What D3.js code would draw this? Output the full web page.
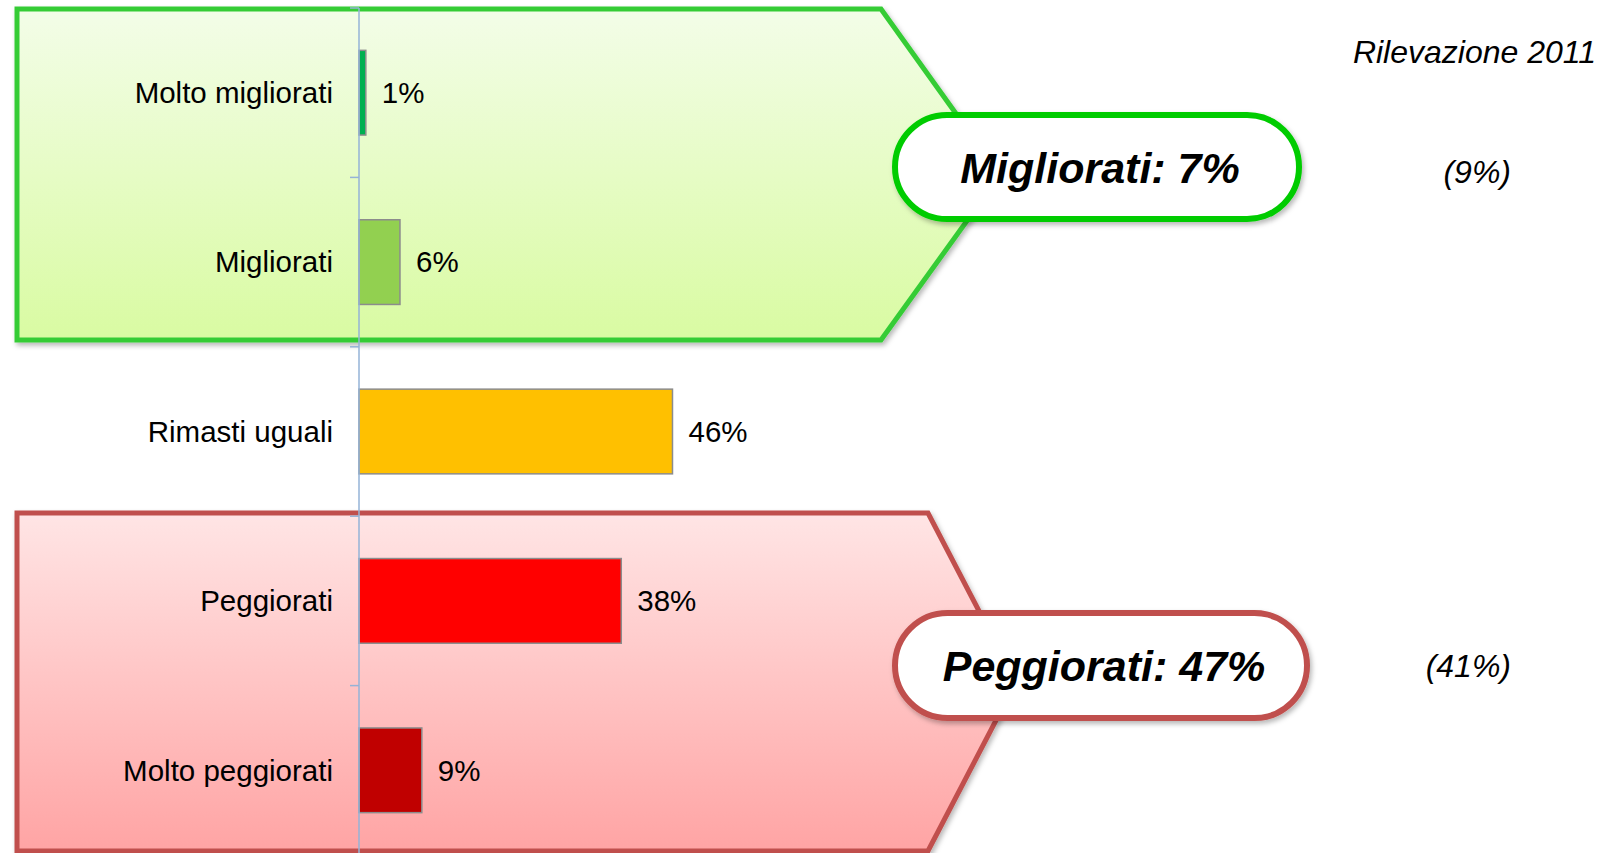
<!DOCTYPE html>
<html>
<head>
<meta charset="utf-8">
<script src="https://cdn.jsdelivr.net/npm/d3@7/dist/d3.min.js"></script>
<style>
  html, body { margin: 0; padding: 0; background: #ffffff; }
  #chart { width: 1610px; height: 853px; }
  text { font-family: "Liberation Sans", Arial, sans-serif; }
</style>
</head>
<body>
<div id="chart"></div>
<script>
// --- Data ---
const categories = ["Molto migliorati", "Migliorati", "Rimasti uguali", "Peggiorati", "Molto peggiorati"];
const values = [1.0, 6.0, 45.9, 38.4, 9.2];
const barColors = ["#00b050", "#92d050", "#ffc000", "#ff0000", "#c00000"];
const groupLabels = ["Migliorati: 7%", "Peggiorati: 47%"];
const prevLabels = ["(9%)", "(41%)"];
const surveyLabel = "Rilevazione 2011";

const width = 1610, height = 853;
const axisX = 359;

const svg = d3.select("#chart").append("svg")
  .attr("width", width).attr("height", height);

const defs = svg.append("defs");

function gradient(id, top, bottom) {
  const lg = defs.append("linearGradient").attr("id", id)
    .attr("x1", 0).attr("y1", 0).attr("x2", 0).attr("y2", 1);
  lg.append("stop").attr("offset", "0%").attr("stop-color", top);
  lg.append("stop").attr("offset", "100%").attr("stop-color", bottom);
}
gradient("gGreen", "#f3fde8", "#d9fba2");
gradient("gRed", "#ffe5e5", "#ffa4a4");

const shadow = defs.append("filter").attr("id", "shadow")
  .attr("x", "-10%").attr("y", "-10%").attr("width", "125%").attr("height", "130%");
shadow.append("feDropShadow")
  .attr("dx", 2).attr("dy", 3).attr("stdDeviation", 2.5)
  .attr("flood-color", "#000").attr("flood-opacity", 0.28);

// --- Scales ---
const y = d3.scaleBand().domain(categories)
  .range([8, 855]).paddingInner(0.5).paddingOuter(0.25);
const x = d3.scaleLinear().domain([0, 100]).range([axisX, axisX + 683]);

// --- Group arrows ---
const arrows = [
  { pts: [[17, 9], [881, 9], [1000, 175], [881, 340], [17, 340]], fill: "url(#gGreen)", stroke: "#36cc36" },
  { pts: [[17, 513], [928, 513], [1016, 682], [928, 851], [17, 851]], fill: "url(#gRed)", stroke: "#c0504d" }
];
svg.selectAll(".arrow").data(arrows).join("path")
  .attr("class", "arrow")
  .attr("d", (d) => "M" + d.pts.map((p) => p.join(",")).join("L") + "Z")
  .attr("fill", (d) => d.fill)
  .attr("stroke", (d) => d.stroke)
  .attr("stroke-width", 5)
  .attr("stroke-linejoin", "miter")
  .attr("filter", "url(#shadow)");

// --- Bars ---
svg.selectAll(".bar").data(categories).join("rect")
  .attr("class", "bar")
  .attr("x", x(0))
  .attr("y", (d) => y(d))
  .attr("width", (d, i) => x(values[i]) - x(0))
  .attr("height", y.bandwidth())
  .attr("fill", (d, i) => barColors[i])
  .attr("stroke", "#8c8c8c")
  .attr("stroke-width", 1.5);

// --- Category axis ---
const step = y.step();
const boundaries = categories.map((c) => y(c) - step * 0.25).concat([y(categories[4]) + y.bandwidth() + step * 0.25]);
svg.append("line")
  .attr("x1", axisX).attr("x2", axisX)
  .attr("y1", boundaries[0]).attr("y2", height)
  .attr("stroke", "#95b3d7").attr("stroke-width", 1.5);
svg.selectAll(".tick").data(boundaries).join("line")
  .attr("class", "tick")
  .attr("x1", axisX - 9).attr("x2", axisX)
  .attr("y1", (d) => d).attr("y2", (d) => d)
  .attr("stroke", "#95b3d7").attr("stroke-width", 1.5);

svg.selectAll(".cat").data(categories).join("text")
  .attr("class", "cat")
  .attr("x", axisX - 26)
  .attr("y", (d) => y(d) + y.bandwidth() / 2)
  .attr("dy", "0.35em")
  .attr("text-anchor", "end")
  .attr("fill", "#000")
  .style("font-size", "29.5px")
  .text((d) => d);

svg.selectAll(".val").data(categories).join("text")
  .attr("class", "val")
  .attr("x", (d, i) => x(values[i]) + 16)
  .attr("y", (d) => y(d) + y.bandwidth() / 2)
  .attr("dy", "0.35em")
  .attr("fill", "#000")
  .style("font-size", "29.5px")
  .text((d, i) => d3.format(".0f")(values[i]) + "%");

// --- Callouts ---
const callouts = [
  { x: 895, y: 115, w: 404, h: 104, stroke: "#00cc00", baseline: 183, prevBase: 183 },
  { x: 895, y: 613, w: 412, h: 105, stroke: "#c0504d", baseline: 681, prevBase: 677 }
];
callouts.forEach((c, i) => {
  svg.append("rect")
    .attr("x", c.x).attr("y", c.y)
    .attr("width", c.w).attr("height", c.h)
    .attr("rx", c.h / 2).attr("ry", c.h / 2)
    .attr("fill", "#ffffff")
    .attr("stroke", c.stroke)
    .attr("stroke-width", 6)
    .attr("filter", "url(#shadow)");
  svg.append("text")
    .attr("x", c.x + c.w / 2 + 3)
    .attr("y", c.baseline)
    .attr("text-anchor", "middle")
    .attr("fill", "#000")
    .style("font-size", "43px")
    .style("font-weight", "700")
    .style("font-style", "italic")
    .text(groupLabels[i]);
  svg.append("text")
    .attr("x", 1511)
    .attr("y", c.prevBase)
    .attr("text-anchor", "end")
    .attr("fill", "#000")
    .style("font-size", "32px")
    .style("font-style", "italic")
    .text(prevLabels[i]);
});

svg.append("text")
  .attr("x", 1596).attr("y", 63)
  .attr("text-anchor", "end")
  .attr("fill", "#000")
  .style("font-size", "32px")
  .style("font-style", "italic")
  .text(surveyLabel);
</script>
</body>
</html>
